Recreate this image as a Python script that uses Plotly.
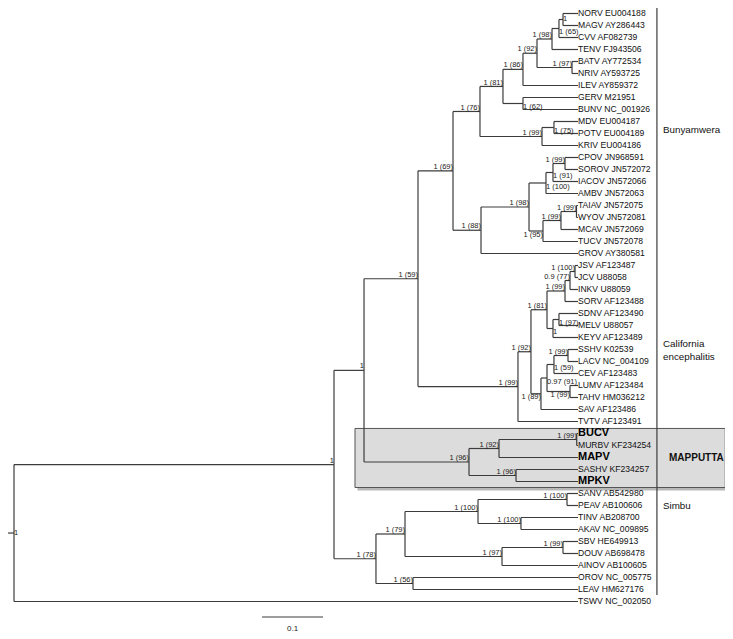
import plotly.graph_objects as go

# ---------------- data ----------------
leaf_names = [
    "NORV EU004188", "MAGV AY286443", "CVV AF082739", "TENV FJ943506", "BATV AY772534",
    "NRIV AY593725", "ILEV AY859372", "GERV M21951", "BUNV NC_001926", "MDV EU004187",
    "POTV EU004189", "KRIV EU004186", "CPOV JN968591", "SOROV JN572072", "IACOV JN572066",
    "AMBV JN572063", "TAIAV JN572075", "WYOV JN572081", "MCAV JN572069", "TUCV JN572078",
    "GROV AY380581", "JSV AF123487", "JCV U88058", "INKV U88059", "SORV AF123488",
    "SDNV AF123490", "MELV U88057", "KEYV AF123489", "SSHV K02539", "LACV NC_004109",
    "CEV AF123483", "LUMV AF123484", "TAHV HM036212", "SAV AF123486", "TVTV AF123491",
    "BUCV", "MURBV KF234254", "MAPV", "SASHV KF234257", "MPKV",
    "SANV AB542980", "PEAV AB100606", "TINV AB208700", "AKAV NC_009895", "SBV HE649913",
    "DOUV AB698478", "AINOV AB100605", "OROV NC_005775", "LEAV HM627176", "TSWV NC_002050",
]
bold_leaves = ["BUCV", "MAPV", "MPKV"]
leaf_parent = [
    "N1", "N1", "N2", "N3", "N5", "N5", "N6", "N8", "N8", "N9",
    "N9", "N10", "P1", "P1", "P2", "P3", "Q1", "Q1", "Q2", "Q3",
    "P5", "R1", "R1", "R2", "R3", "R4", "R4", "R5", "R8", "R8",
    "R9a", "R9b", "R9b", "R10", "R11", "M1", "M1", "M2", "M3", "M3",
    "S1", "S1", "S2", "S2", "S4", "S4", "S5", "S7", "S7", "root",
]
leaf_depth = 0.9246  # all tips aligned

node_ids = ["root", "A", "B", "C", "N12", "N11", "N7", "N6", "N4", "N3", "N2", "N1", "N5",
            "N8", "N10", "N9", "P5", "P4", "P3", "P2", "P1", "Q3", "Q2", "Q1",
            "R11", "R7", "R6", "R3", "R2", "R1", "R5", "R4", "R10", "R9", "R9a", "R8", "R9b",
            "M4", "M2", "M1", "M3", "S8", "S6", "S3", "S1", "S2", "S5", "S4", "S7"]
node_parent = [None, "root", "A", "B", "C", "N12", "N11", "N7", "N6", "N4", "N3", "N2", "N4",
               "N7", "N11", "N10", "N12", "P5", "P4", "P3", "P2", "P4", "Q3", "Q2",
               "C", "R11", "R7", "R6", "R3", "R2", "R6", "R5", "R7", "R10", "R9", "R9a", "R9",
               "B", "M4", "M2", "M4", "A", "S8", "S6", "S3", "S3", "S6", "S5", "S8"]
node_depth = [0.0, 0.5246, 0.5738, 0.6623, 0.7197, 0.7639, 0.8016, 0.8344, 0.8574, 0.8820, 0.8934, 0.9000, 0.9148,
              0.8344, 0.8656, 0.8852, 0.7656, 0.8443, 0.8721, 0.8836, 0.9033, 0.8672, 0.8967, 0.9221,
              0.8262, 0.8475, 0.8738, 0.9033, 0.9115, 0.9197, 0.8836, 0.8934, 0.8639, 0.8738, 0.8852, 0.9082, 0.9115,
              0.7459, 0.7951, 0.9225, 0.8230, 0.5934, 0.6410, 0.7607, 0.9066, 0.8311, 0.8000, 0.9000, 0.6541]
node_support = ["1", "1", "1", "1 (59)", "1 (69)", "1 (76)", "1 (81)", "1 (86)", "1 (92)", "1 (98)", "1 (65)", "1", "1 (97)",
                "1 (62)", "1 (99)", "1 (75)", "1 (88)", "1 (98)", "1 (100)", "1 (91)", "1 (99)", "1 (95)", "1 (99)", "1 (99)",
                "1 (99)", "1 (92)", "1 (81)", "1 (99)", "0.9 (77)", "1 (100)", "1", "1 (97)", "1 (89)", "0.97 (91)", "1 (59)", "1 (99)", "1 (99)",
                "1 (96)", "1 (92)", "1 (99)", "1 (96)", "1 (78)", "1 (79)", "1 (100)", "1 (100)", "1 (100)", "1 (97)", "1 (99)", "1 (56)"]

clade_names = ["Bunyamwera", "California<br>encephalitis", "MAPPUTTA", "Simbu"]
clade_first_leaf = [0, 21, 35, 40]
clade_last_leaf = [20, 34, 39, 48]
clade_label_row = [9.7, 28.0, 37.0, 41.0]

scale_bar_length = 0.1

# ---------------- style ----------------
label_style = {  # placement of support labels that are moved off the default
    "root": "middle right", "N1": "middle right", "N2": "bottom right", "N8": "bottom right",
    "N9": "bottom right", "P2": "bottom right", "P3": "bottom right", "Q3": "bottom left",
    "R4": "bottom right", "R5": "bottom right", "R9a": "bottom right", "R9b": "bottom left",
    "R9": "bottom right", "R10": "bottom left",
}
LINE = "#3c3c3c"
FONT = "Liberation Sans, Arial, sans-serif"

# ---------------- layout of the tree ----------------
depth = dict(zip(node_ids, node_depth))
parent = dict(zip(node_ids, node_parent))
children = {n: [] for n in node_ids}
ypos = {}
for i, (name, p) in enumerate(zip(leaf_names, leaf_parent)):
    key = "leaf%d" % i
    ypos[key] = float(i)
    depth[key] = leaf_depth
    parent[key] = p
    children[p].append(key)
for n, p in zip(node_ids, node_parent):
    if p is not None:
        children[p].append(n)


def get_y(n):
    if n in ypos:
        return ypos[n]
    ys = [get_y(c) for c in children[n]]
    ypos[n] = (min(ys) + max(ys)) / 2
    return ypos[n]


for n in node_ids:
    get_y(n)

bx, by = [], []
for n in list(depth.keys()):
    p = parent[n]
    if p is not None:
        bx += [depth[p], depth[n], None]
        by += [ypos[n], ypos[n], None]
    if n in children and children[n]:
        ys = [ypos[c] for c in children[n]]
        bx += [depth[n], depth[n], None]
        by += [min(ys), max(ys), None]
# root stub
bx += [-0.0098, 0.0, None]
by += [ypos["root"], ypos["root"], None]

fig = go.Figure()

# clade box (MAPPUTTA) with shadow
mx0, mx1 = 0.559, 1.166
my0, my1 = 34.58, 39.5
fig.add_shape(type="rect", xref="x", yref="y", x0=mx0 + 0.004, x1=mx1 + 0.004, y0=my0 + 0.25, y1=my1 + 0.25,
              line=dict(width=0), fillcolor="rgba(0,0,0,0.28)", layer="below")
fig.add_shape(type="rect", xref="x", yref="y", x0=mx0, x1=mx1, y0=my0, y1=my1,
              line=dict(color="#555555", width=1), fillcolor="#dcdcdc", layer="below")

fig.add_trace(go.Scatter(x=bx, y=by, mode="lines", line=dict(color=LINE, width=1.2),
                         hoverinfo="skip", showlegend=False, cliponaxis=False))

# leaf labels
normal_x, normal_y, normal_t, bold_x, bold_y, bold_t = [], [], [], [], [], []
for i, name in enumerate(leaf_names):
    if name in bold_leaves:
        bold_x.append(leaf_depth); bold_y.append(i); bold_t.append("<b>%s</b>" % name)
    else:
        normal_x.append(leaf_depth); normal_y.append(i); normal_t.append(name)
fig.add_trace(go.Scatter(x=normal_x, y=normal_y, text=normal_t, mode="text", textposition="middle right",
                         textfont=dict(family=FONT, size=8.6, color="#111111"), hoverinfo="skip",
                         showlegend=False, cliponaxis=False))
fig.add_trace(go.Scatter(x=bold_x, y=bold_y, text=bold_t, mode="text", textposition="middle right",
                         textfont=dict(family=FONT, size=11, color="#000000"), hoverinfo="skip",
                         showlegend=False, cliponaxis=False))

# support labels
groups = {}
for n, s in zip(node_ids, node_support):
    pos = label_style.get(n, "top left")
    groups.setdefault(pos, ([], [], []))
    groups[pos][0].append(depth[n]); groups[pos][1].append(ypos[n]); groups[pos][2].append(s)
for pos, (gx, gy, gt) in groups.items():
    fig.add_trace(go.Scatter(x=gx, y=gy, text=gt, mode="text", textposition=pos,
                             textfont=dict(family=FONT, size=7.5, color="#222222"),
                             hoverinfo="skip", showlegend=False, cliponaxis=False))

# clade brackets and names
brx, bry = [], []
bracket_x = 1.054
for nm, a, b, row in zip(clade_names, clade_first_leaf, clade_last_leaf, clade_label_row):
    brx += [bracket_x, bracket_x, None]
    bry += [a - 0.55, b + 0.45, None]
    bold = nm == "MAPPUTTA"
    fig.add_annotation(x=bracket_x + (0.016 if bold else 0.007), y=row, xref="x", yref="y",
                       text=("<b>%s</b>" % nm) if bold else nm, showarrow=False,
                       xanchor="left", yanchor="middle", align="left",
                       font=dict(family=FONT, size=10 if bold else 9.8, color="#111111"))
fig.add_trace(go.Scatter(x=brx, y=bry, mode="lines", line=dict(color=LINE, width=1.2),
                         hoverinfo="skip", showlegend=False, cliponaxis=False))

# scale bar
sb0 = 0.4066
fig.add_trace(go.Scatter(x=[sb0, sb0 + scale_bar_length], y=[50.29, 50.29], mode="lines",
                         line=dict(color=LINE, width=1.2), hoverinfo="skip", showlegend=False))
fig.add_annotation(x=sb0 + scale_bar_length / 2, y=51.21, xref="x", yref="y", text=str(scale_bar_length),
                   showarrow=False, font=dict(family=FONT, size=8, color="#222222"))

# page body has an 8px margin, so the figure is 8px smaller and ranges are shifted to match
fig.update_layout(
    width=725, height=631, margin=dict(l=0, r=0, t=0, b=0),
    plot_bgcolor="white", paper_bgcolor="white",
    xaxis=dict(range=[-0.00984, 1.1787], visible=False, fixedrange=True),
    yaxis=dict(range=[52.125, -0.4583], visible=False, fixedrange=True),
    showlegend=False,
)
fig.write_html("out.html")
